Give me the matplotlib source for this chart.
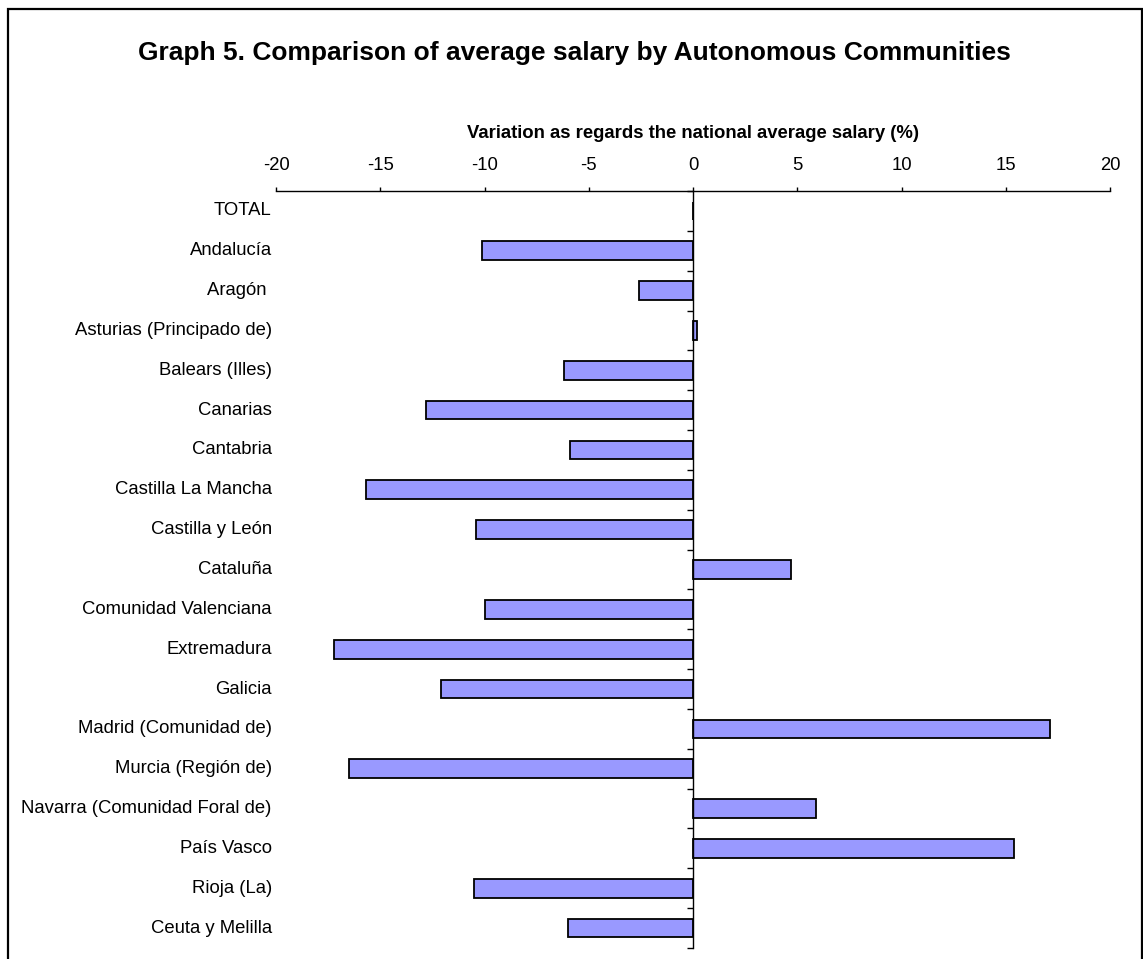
# -*- coding: utf-8 -*-
"""
Graph 5: average salary by Autonomous Community, variation vs national average
"""

import numpy as np
import matplotlib
matplotlib.use('Agg')
import matplotlib.pyplot as plt
import matplotlib.transforms as mtransforms
from matplotlib.patches import Rectangle

# %% data
regions = ['TOTAL', 'Andalucía', 'Aragón ', 'Asturias (Principado de)', 'Balears (Illes)',
           'Canarias', 'Cantabria', 'Castilla La Mancha', 'Castilla y León', 'Cataluña',
           'Comunidad Valenciana', 'Extremadura', 'Galicia', 'Madrid (Comunidad de)',
           'Murcia (Región de)', 'Navarra (Comunidad Foral de)', 'País Vasco', 'Rioja (La)',
           'Ceuta y Melilla']
variation = [0.0, -10.1, -2.6, 0.2, -6.2,
             -12.8, -5.9, -15.7, -10.4, 4.7,
             -10.0, -17.2, -12.1, 17.1,
             -16.5, 5.9, 15.4, -10.5,
             -6.0]
xticks = [-20, -15, -10, -5, 0, 5, 10, 15, 20]

title = 'Graph 5. Comparison of average salary by Autonomous Communities'
xlabel = 'Variation as regards the national average salary (%)'

# %% plot style
plt.rcParams['font.family'] = ['Liberation Sans', 'DejaVu Sans']
plt.rcParams['font.size'] = 13.3
plt.rcParams['axes.unicode_minus'] = False

W, H = 1143, 959
fig = plt.figure(figsize=(W/100, H/100), dpi=100)
ax = fig.add_axes([276/W, 1 - 948/H, (1110 - 276)/W, (948 - 191)/H])

ypos = np.arange(len(regions))
ax.barh(ypos, variation, height=0.47, color='#9999FF', edgecolor='black', linewidth=1.3)

# x axis on top
ax.set_xlim(-20, 20)
ax.set_xticks(xticks)
ax.xaxis.set_ticks_position('top')
ax.xaxis.set_label_position('top')
ax.tick_params(axis='x', direction='out', length=3, width=1, pad=9, labelsize=13.3)
ax.set_xlabel(xlabel, fontweight='bold', fontsize=13.3, labelpad=14)

# category axis sits on the zero line, ticks between categories
ax.set_ylim(len(regions) - 0.5, -0.5)
ax.set_yticks(np.arange(len(regions) + 1) - 0.5)
ax.set_yticklabels([])
ax.tick_params(axis='y', direction='out', length=4, width=1)
ax.spines['left'].set_position(('data', 0))
ax.spines['right'].set_visible(False)
ax.spines['bottom'].set_visible(False)
ax.spines['top'].set_linewidth(1)
ax.spines['left'].set_linewidth(1)

trans = mtransforms.blended_transform_factory(ax.transAxes, ax.transData)
for y, name in zip(ypos, regions):
    ax.text(-0.005, y, name, transform=trans, ha='right', va='center', fontsize=13.3)

fig.text(574/W, 1 - 53/H, title, ha='center', va='center', fontsize=19, fontweight='bold')

# outer frame (bottom edge is cut off in the original)
fig.patches.append(Rectangle((8/W, -0.02), (1142 - 8)/W, 1 - 9/H + 0.02,
                             transform=fig.transFigure, fill=False,
                             edgecolor='black', linewidth=1.6, clip_on=False))

fig.savefig('out.png', dpi=100)
